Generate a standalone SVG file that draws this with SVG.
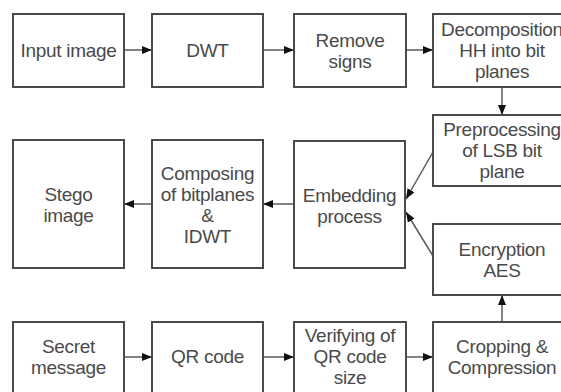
<svg xmlns="http://www.w3.org/2000/svg" width="561" height="392" viewBox="0 0 561 392">
<style>
.box{fill:#fff;stroke:#4a4a4a;stroke-width:2}
.t{font-family:"Liberation Sans",Arial,sans-serif;font-size:19px;fill:#4a4a4a;text-anchor:middle;letter-spacing:-0.3px}
.c{fill:none;stroke:#5a5a5a;stroke-width:1.5}
</style>
<defs>
<marker id="ah" markerWidth="10" markerHeight="8" refX="10" refY="4" orient="auto" markerUnits="userSpaceOnUse">
<path d="M0,0 L10,4 L0,8 Z" fill="#111"/>
</marker>
</defs>
<rect width="561" height="392" fill="#fff"/>
<g id="connectors">
<line class="c" x1="124" y1="50" x2="152" y2="50" marker-end="url(#ah)"/>
<line class="c" x1="263" y1="50" x2="294" y2="50" marker-end="url(#ah)"/>
<line class="c" x1="406" y1="50" x2="433" y2="50" marker-end="url(#ah)"/>
<line class="c" x1="502" y1="87" x2="502" y2="115" marker-end="url(#ah)"/>
<line class="c" x1="433" y1="152" x2="406" y2="199" marker-end="url(#ah)"/>
<line class="c" x1="433" y1="256" x2="406" y2="212" marker-end="url(#ah)"/>
<line class="c" x1="294" y1="204" x2="263" y2="204" marker-end="url(#ah)"/>
<line class="c" x1="152" y1="204" x2="124" y2="204" marker-end="url(#ah)"/>
<line class="c" x1="124" y1="357" x2="152" y2="357" marker-end="url(#ah)"/>
<line class="c" x1="263" y1="357" x2="294" y2="357" marker-end="url(#ah)"/>
<line class="c" x1="406" y1="357" x2="433" y2="357" marker-end="url(#ah)"/>
<line class="c" x1="502" y1="322" x2="502" y2="295" marker-end="url(#ah)"/>
</g>
<g id="input-image"><rect class="box" x="13" y="14" width="111" height="73"/><text class="t" x="68.5" y="57">Input image</text></g>
<g id="dwt"><rect class="box" x="152" y="14" width="111" height="73"/><text class="t" x="207.5" y="57">DWT</text></g>
<g id="remove-signs"><rect class="box" x="294" y="14" width="112" height="73"/><text class="t" x="350" y="46.5">Remove</text><text class="t" x="350" y="67.5">signs</text></g>
<g id="decomposition"><rect class="box" x="433" y="14" width="138" height="73"/><text class="t" x="502" y="36">Decomposition</text><text class="t" x="502" y="57">HH into bit</text><text class="t" x="502" y="78">planes</text></g>
<g id="preprocessing"><rect class="box" x="433" y="115" width="138" height="71"/><text class="t" x="502" y="136">Preprocessing</text><text class="t" x="502" y="157">of LSB bit</text><text class="t" x="502" y="178">plane</text></g>
<g id="stego-image"><rect class="box" x="13" y="140" width="111" height="128"/><text class="t" x="68.5" y="200.5">Stego</text><text class="t" x="68.5" y="221.5">image</text></g>
<g id="composing"><rect class="box" x="152" y="140" width="111" height="128"/><text class="t" x="207.5" y="179.5">Composing</text><text class="t" x="207.5" y="200.5">of bitplanes</text><text class="t" x="207.5" y="221.5">&amp;</text><text class="t" x="207.5" y="242.5">IDWT</text></g>
<g id="embedding"><rect class="box" x="294" y="141" width="111" height="127"/><text class="t" x="349.5" y="202">Embedding</text><text class="t" x="349.5" y="223">process</text></g>
<g id="encryption"><rect class="box" x="433" y="224" width="138" height="71"/><text class="t" x="502" y="255.5">Encryption</text><text class="t" x="502" y="276.5">AES</text></g>
<g id="secret-message"><rect class="box" x="13" y="322" width="111" height="73"/><text class="t" x="68.5" y="353">Secret</text><text class="t" x="68.5" y="374">message</text></g>
<g id="qr-code"><rect class="box" x="152" y="322" width="111" height="73"/><text class="t" x="207.5" y="363">QR code</text></g>
<g id="verifying"><rect class="box" x="294" y="322" width="112" height="73"/><text class="t" x="350" y="342">Verifying of</text><text class="t" x="350" y="363">QR code</text><text class="t" x="350" y="384">size</text></g>
<g id="cropping"><rect class="box" x="433" y="322" width="138" height="73"/><text class="t" x="502" y="353">Cropping &amp;</text><text class="t" x="502" y="374">Compression</text></g>
</svg>
